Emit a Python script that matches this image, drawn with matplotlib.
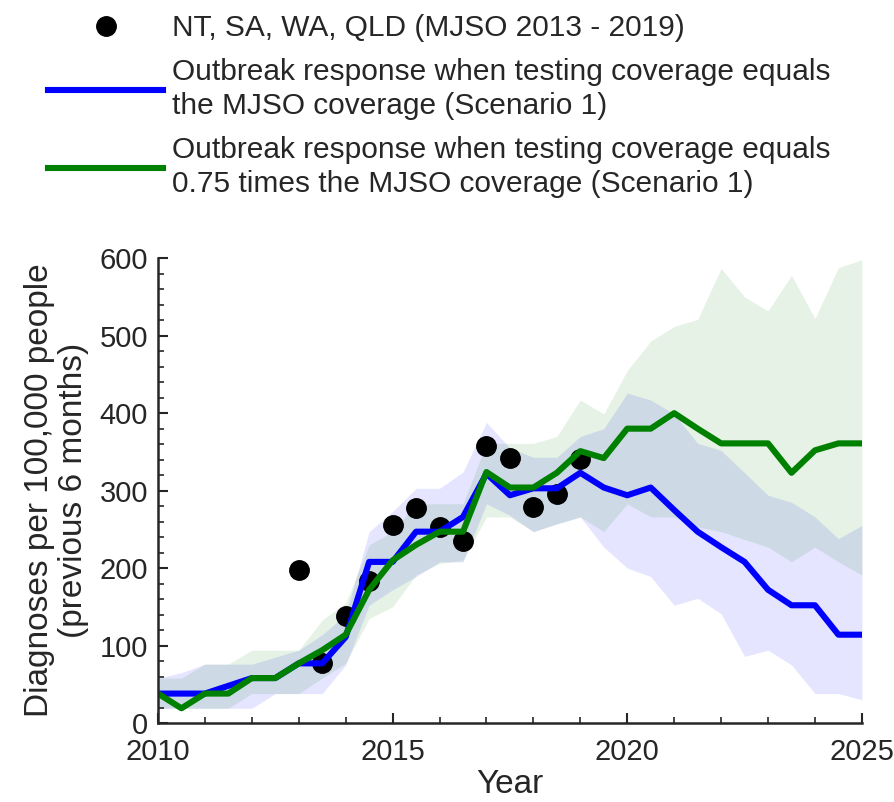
import numpy as np
import matplotlib
matplotlib.use('Agg')
import matplotlib.pyplot as plt
from matplotlib.ticker import MultipleLocator

plt.rcParams['font.family'] = ['Liberation Sans', 'DejaVu Sans']

# ---- data ----
years = np.arange(2010, 2025.01, 0.5)

blue_mid = [38, 38, 38, 48, 58, 58, 77, 77, 111, 208, 208, 247, 247, 266, 322, 294,
            303, 303, 323, 304, 294, 304, 275, 247, 227, 208, 172, 152, 152, 114, 114]
blue_upper = [58, 65, 76, 76, 76, 85, 94, 114, 140, 247, 273, 303, 303, 324, 388, 355,
              343, 343, 370, 380, 426, 417, 399, 361, 352, 323, 294, 285, 266, 238, 255]
blue_lower = [19, 19, 19, 19, 19, 38, 38, 38, 75, 152, 172, 189, 208, 208, 283, 268,
              247, 257, 266, 227, 200, 189, 152, 161, 141, 86, 94, 75, 38, 38, 30]

green_mid = [38, 19, 38, 38, 58, 58, 77, 94, 114, 172, 210, 230, 247, 247, 324, 304,
             304, 323, 351, 342, 380, 380, 400, 380, 361, 361, 361, 323, 352, 361, 361]
green_upper = [58, 58, 76, 76, 94, 94, 94, 133, 155, 230, 247, 283, 283, 283, 361, 361,
               361, 370, 417, 399, 455, 493, 512, 521, 587, 550, 532, 578, 522, 588, 598]
green_lower = [19, 19, 19, 19, 38, 38, 38, 58, 77, 135, 150, 191, 206, 210, 266, 266,
               247, 257, 266, 247, 283, 266, 266, 253, 247, 237, 227, 208, 227, 208, 191]

obs_years = [2013, 2013.5, 2014, 2014.5, 2015, 2015.5, 2016, 2016.5, 2017, 2017.5,
             2018, 2018.5, 2019]
obs_values = [198, 77, 138, 183, 256, 277, 253, 235, 358, 342, 279, 295, 341]

labels = ['NT, SA, WA, QLD (MJSO 2013 - 2019)',
          'Outbreak response when testing coverage equals\nthe MJSO coverage (Scenario 1)',
          'Outbreak response when testing coverage equals\n0.75 times the MJSO coverage (Scenario 1)']

# ---- figure ----
fig = plt.figure(figsize=(8.95, 8.02), dpi=100)
ax = fig.add_axes([0.1765, 0.0985, 0.963 - 0.1765, 0.678 - 0.0985])

ax.fill_between(years, blue_lower, blue_upper, color='#0000ff', alpha=0.1, linewidth=0)
ax.fill_between(years, green_lower, green_upper, color='#008000', alpha=0.1, linewidth=0)

h0, = ax.plot(obs_years, obs_values, 'o', color='black', markersize=14, linestyle='none')
h1, = ax.plot(years, blue_mid, color='#0000ff', linewidth=4.4)
h2, = ax.plot(years, green_mid, color='#008000', linewidth=4.4)

ax.set_xlim(2010, 2025)
ax.set_ylim(0, 600)
ax.xaxis.set_major_locator(MultipleLocator(5))
ax.xaxis.set_minor_locator(MultipleLocator(1))
ax.yaxis.set_major_locator(MultipleLocator(100))
ax.yaxis.set_minor_locator(MultipleLocator(20))

dark = '#262626'
for s in ['top', 'right']:
    ax.spines[s].set_visible(False)
for s in ['left', 'bottom']:
    ax.spines[s].set_linewidth(1.8)
    ax.spines[s].set_color(dark)
ax.tick_params(which='both', direction='in', colors=dark, labelsize=21)
ax.tick_params(which='major', length=7, width=1.5)
ax.tick_params(which='minor', length=4, width=1.2)
ax.tick_params(axis='x', which='major', pad=11)
ax.tick_params(axis='y', which='major', pad=7)

ax.set_xlabel('Year', fontsize=24, color=dark, labelpad=2)
ax.set_ylabel('Diagnoses per 100,000 people\n(previous 6 months)', fontsize=24,
              color=dark, labelpad=8, linespacing=1.1)

leg = fig.legend([h0, h1, h2], labels, loc='upper left',
                 bbox_to_anchor=(0.054, 0.9825), frameon=False, fontsize=21.5,
                 handlelength=3.85, handletextpad=0.3, labelspacing=0.55,
                 borderpad=0, borderaxespad=0, numpoints=1)
for t in leg.get_texts():
    t.set_color(dark)
    t.set_linespacing(1.25)

fig.savefig('out.png', dpi=100)
